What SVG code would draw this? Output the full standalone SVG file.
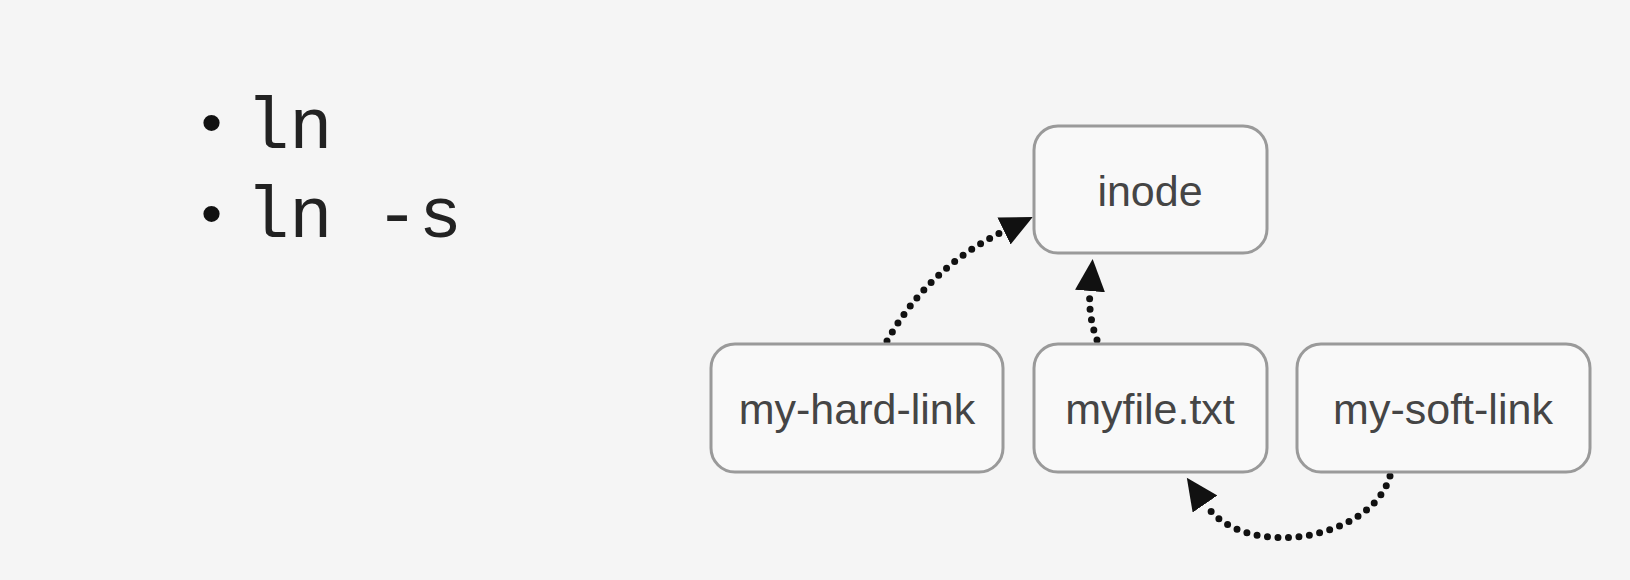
<svg xmlns="http://www.w3.org/2000/svg" width="1630" height="580" viewBox="0 0 1630 580">
<style>
.bg{fill:#f5f5f5}
.box{fill:#f9f9f9;stroke:#9a9a9a;stroke-width:3}
.lbl{font-family:"Liberation Sans",Arial,sans-serif;font-size:43px;fill:#454545;text-anchor:middle}
.code{font-family:"Liberation Mono","Courier New",monospace;font-size:72px;fill:#222}
.bul{font-family:"Liberation Sans",Arial,sans-serif;font-size:60px;fill:#111}
.conn{fill:none;stroke:#111;stroke-width:7;stroke-linecap:round;stroke-dasharray:0 10.5}
</style>
<defs>
<marker id="ah" markerUnits="userSpaceOnUse" markerWidth="34" markerHeight="30" refX="0" refY="15" orient="auto">
<path d="M0,0 L32,15 L0,30 Z" fill="#111"/>
</marker>
</defs>
<rect class="bg" x="0" y="0" width="1630" height="580"/>
<g id="list">
<text class="bul" x="201" y="143">•</text>
<text class="code" x="246" y="148">ln</text>
<text class="bul" x="201" y="234">•</text>
<text class="code" x="246" y="237">ln -s</text>
</g>
<g id="connectors">
<path class="conn" d="M887,341 Q928,268 1004,231" marker-end="url(#ah)"/>
<path class="conn" d="M1097,340 Q1088,315 1090,291" marker-end="url(#ah)"/>
<path class="conn" d="M1390,476 C1372,540 1245,562 1205,504" marker-end="url(#ah)"/>
</g>
<g id="inode">
<rect class="box" x="1034" y="126" width="233" height="127" rx="24"/>
<text class="lbl" x="1150" y="206">inode</text>
</g>
<g id="my-hard-link">
<rect class="box" x="711" y="344" width="292" height="128" rx="24"/>
<text class="lbl" x="857" y="424">my-hard-link</text>
</g>
<g id="myfile">
<rect class="box" x="1034" y="344" width="233" height="128" rx="24"/>
<text class="lbl" x="1150" y="424">myfile.txt</text>
</g>
<g id="my-soft-link">
<rect class="box" x="1297" y="344" width="293" height="128" rx="24"/>
<text class="lbl" x="1443" y="424">my-soft-link</text>
</g>
</svg>
